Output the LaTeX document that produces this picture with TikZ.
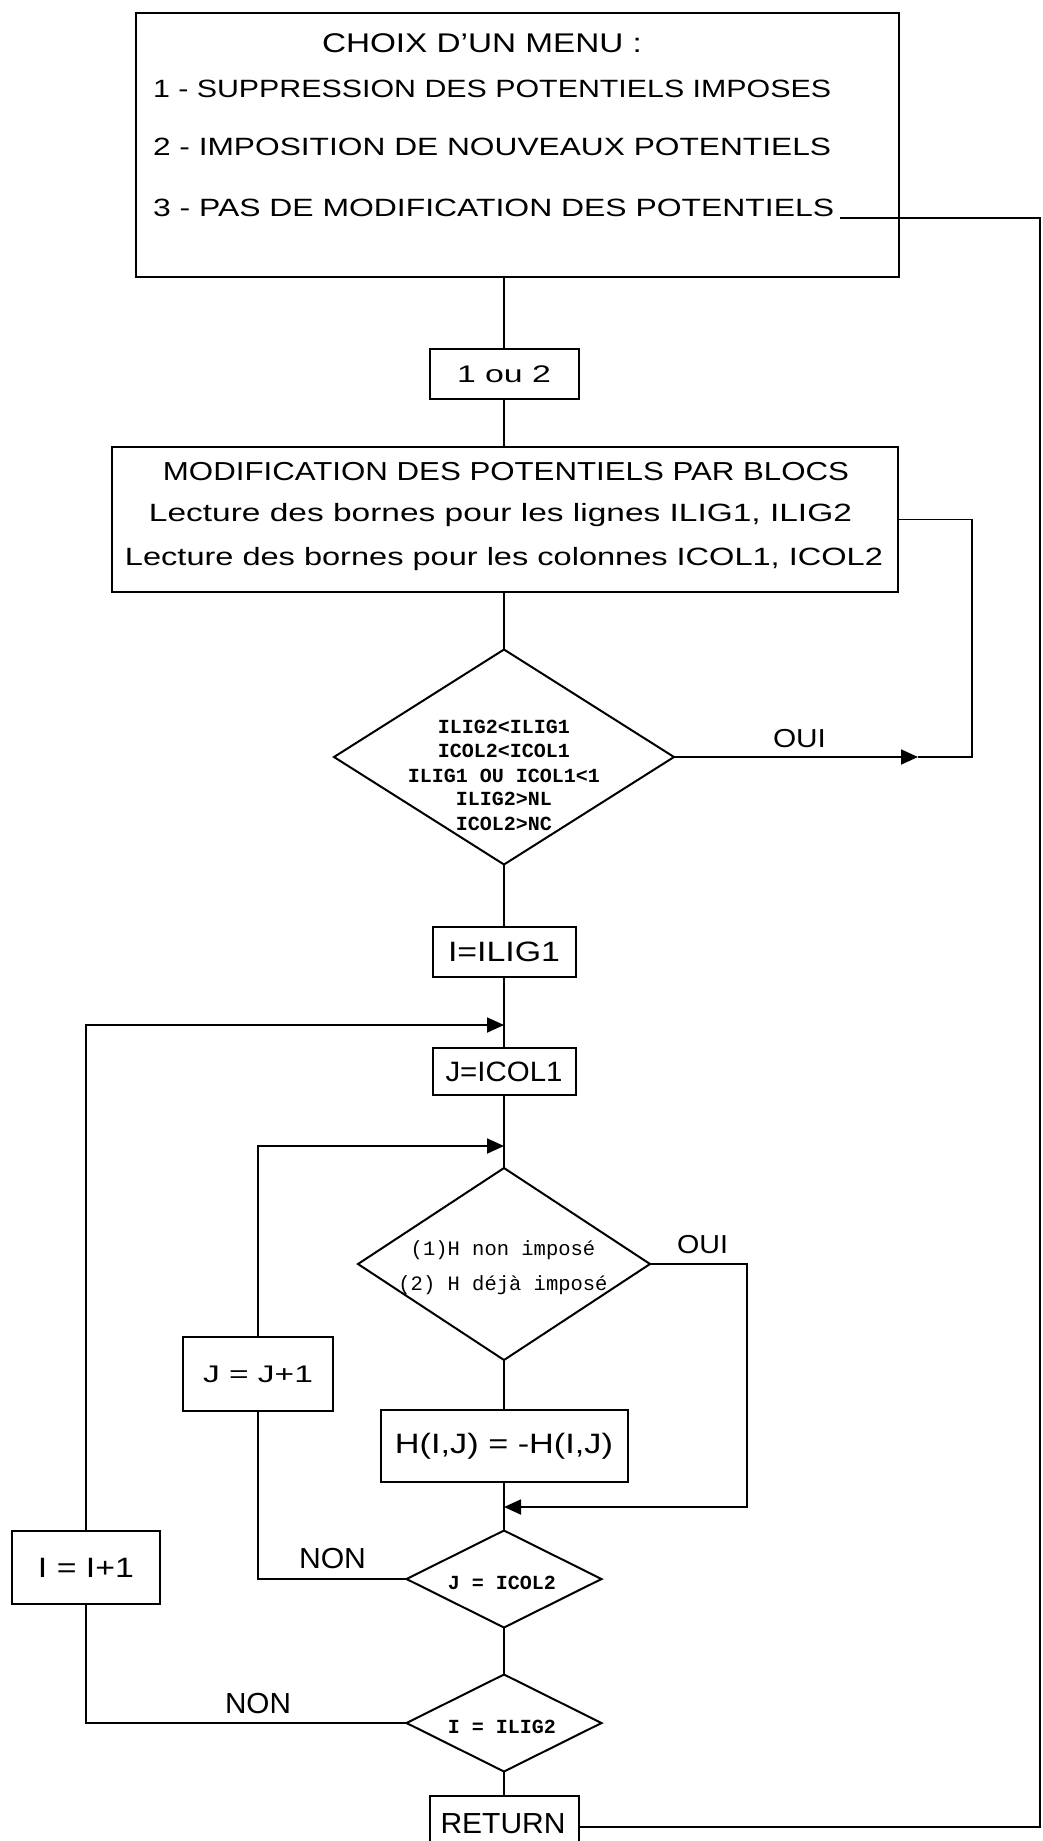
\documentclass[tikz,border=0pt]{standalone}
\usepackage{fontspec}
\setmainfont{Liberation Sans}
\newfontfamily\monofam{Liberation Mono}
\usepackage{graphicx}
\usetikzlibrary{shapes.geometric,arrows.meta}
\newcommand{\fs}[1]{\fontsize{#1pt}{#1pt}\selectfont}
\newcommand{\fw}[2]{\resizebox{#1pt}{\height}{#2}}
\newcommand{\monob}{\monofam\bfseries\fs{20}}
\newcommand{\monor}{\monofam\fs{20.5}}
\begin{document}
\begin{tikzpicture}[x=1pt,y=-1pt,
  box/.style={draw, line width=2pt, inner sep=0pt, outer sep=0pt},
  dia/.style={draw, diamond, line width=2pt, inner sep=0pt, outer sep=0pt},
  txt/.style={inner sep=0pt, outer sep=0pt},
  conn/.style={line width=1.8pt},
  arr/.style={conn, -{Triangle[length=17pt,width=15pt]}}]
\useasboundingbox (0,0) rectangle (1042,1841);
\clip (0,0) rectangle (1042,1841);
\fill[white] (0,0) rectangle (1042,1841);

% ---- menu box
\node[box, minimum width=763pt, minimum height=264pt] (menu) at (517.5,145) {};
\node[txt, anchor=base, font=\fs{27}] (menut) at (482,53) {\fw{320}{CHOIX D'UN MENU :}};
\node[txt, anchor=base west, font=\fs{25}] (m1) at (153,98) {\fw{678}{1 - SUPPRESSION DES POTENTIELS IMPOSES}};
\node[txt, anchor=base west, font=\fs{25}] (m2) at (153,155) {\fw{678}{2 - IMPOSITION DE NOUVEAUX POTENTIELS}};
\node[txt, anchor=base west, font=\fs{25}] (m3) at (153,216) {\fw{681}{3 - PAS DE MODIFICATION DES POTENTIELS}};

% ---- 1 ou 2
\node[box, minimum width=149pt, minimum height=50pt, font=\fs{24}] (ou12) at (504,374) {\fw{94}{1 ou 2}};

% ---- modification box
\node[box, minimum width=786pt, minimum height=145pt] (mod) at (504.5,519.5) {};
\node[txt, anchor=base, font=\fs{26}] (modt) at (506,480) {\fw{686}{MODIFICATION DES POTENTIELS PAR BLOCS}};
\node[txt, anchor=base, font=\fs{25}] (modl) at (500.5,521) {\fw{703}{Lecture des bornes pour les lignes ILIG1, ILIG2}};
\node[txt, anchor=base, font=\fs{25}] (modc) at (504,565) {\fw{758}{Lecture des bornes pour les colonnes ICOL1, ICOL2}};

% ---- diamond 1
\node[dia, minimum width=340pt, minimum height=215pt] (d1) at (504,757) {};
\node[txt, anchor=base, font=\monob] (d1a) at (504,733) {ILIG2<ILIG1};
\node[txt, anchor=base, font=\monob] (d1b) at (504,757) {ICOL2<ICOL1};
\node[txt, anchor=base, font=\monob] (d1c) at (504,782) {ILIG1 OU ICOL1<1};
\node[txt, anchor=base, font=\monob] (d1d) at (504,805) {ILIG2>NL};
\node[txt, anchor=base, font=\monob] (d1e) at (504,830) {ICOL2>NC};
\node[txt, anchor=base, font=\fs{26}] (oui1) at (799.5,747) {\fw{53}{OUI}};

% ---- init boxes
\node[box, minimum width=143pt, minimum height=50pt, font=\fs{28}] (il1) at (504,952) {\fw{112}{I=ILIG1}};
\node[box, minimum width=143pt, minimum height=47pt, font=\fs{28}] (ic1) at (504,1071.5) {\fw{117}{J=ICOL1}};

% ---- diamond 2
\node[dia, minimum width=292pt, minimum height=192pt] (d2) at (504,1264) {};
\node[txt, anchor=base, font=\monor] (d2a) at (503,1255) {(1)H non imposé};
\node[txt, anchor=base, font=\monor] (d2b) at (503,1290) {(2) H déjà imposé};
\node[txt, anchor=base, font=\fs{26}] (oui2) at (702.5,1253) {\fw{51}{OUI}};

% ---- J = J+1 and H box
\node[box, minimum width=150pt, minimum height=74pt, font=\fs{24}] (jj) at (258,1374) {\fw{110}{J = J+1}};
\node[box, minimum width=247pt, minimum height=72pt, font=\fs{28}] (hb) at (504,1446) {\fw{218}{H(I,J) = -H(I,J)}};

% ---- diamond 3
\node[dia, minimum width=195pt, minimum height=97pt] (d3) at (504,1579) {};
\node[txt, anchor=base, font=\monob] (d3t) at (502,1589) {J = ICOL2};
\node[txt, anchor=base, font=\fs{29}] (non1) at (332.5,1568) {\fw{67}{NON}};

% ---- I = I+1
\node[box, minimum width=148pt, minimum height=73pt, font=\fs{28}] (ii) at (86,1567.5) {\fw{96}{I = I+1}};

% ---- diamond 4
\node[dia, minimum width=195pt, minimum height=97pt] (d4) at (504,1723) {};
\node[txt, anchor=base, font=\monob] (d4t) at (502,1733) {I = ILIG2};
\node[txt, anchor=base, font=\fs{29}] (non2) at (258,1713) {\fw{66}{NON}};

% ---- RETURN
\node[box, minimum width=149pt, minimum height=62pt] (ret) at (504,1827) {};
\node[txt, anchor=base, font=\fs{29}] (rett) at (503,1833) {\fw{125}{RETURN}};

% ---- main vertical flow
\draw[conn] (d1.north |- menu.south) -- (ou12.north);
\draw[conn] (ou12.south) -- (d1.north |- mod.north);
\draw[conn] (d1.north |- mod.south) -- (d1.north);
\draw[conn] (d1.south) -- (il1.north);
\draw[conn] (il1.south) -- (ic1.north);
\draw[conn] (ic1.south) -- (d2.north);
\draw[conn] (d2.south) -- (hb.north);
\draw[conn] (hb.south) -- (d3.north);
\draw[conn] (d3.south) -- (d4.north);
\draw[conn] (d4.south) -- (ret.north);

% ---- OUI of diamond 1: back to reading
\coordinate (o1tip) at (918,757);
\coordinate (o1c) at (972,757);
\draw[arr] (d1.east) -- (o1tip);
\draw[conn] (o1tip) -- (o1c) |- (mod.east);

% ---- OUI of diamond 2
\coordinate (o2c) at (747,1264);
\coordinate (htip) at (504,1507);
\draw[arr] (d2.east) -- (o2c) |- (htip);

% ---- J loop
\coordinate (jtip) at (504,1146);
\draw[conn] (d3.west) -| (jj.south);
\draw[arr] (jj.north) |- (jtip);

% ---- I loop
\coordinate (itip) at (504,1025);
\draw[conn] (d4.west) -| (ii.south);
\draw[arr] (ii.north) |- (itip);

% ---- choice 3 -> RETURN
\coordinate (m3end) at ([xshift=6pt,yshift=-2pt]m3.base east);
\coordinate (rb) at (1040,1827);
\coordinate (rt) at (rb |- m3end);
\draw[conn] (ret.east) -- (rb) -- (rt) -- (m3end);
\end{tikzpicture}
\end{document}
